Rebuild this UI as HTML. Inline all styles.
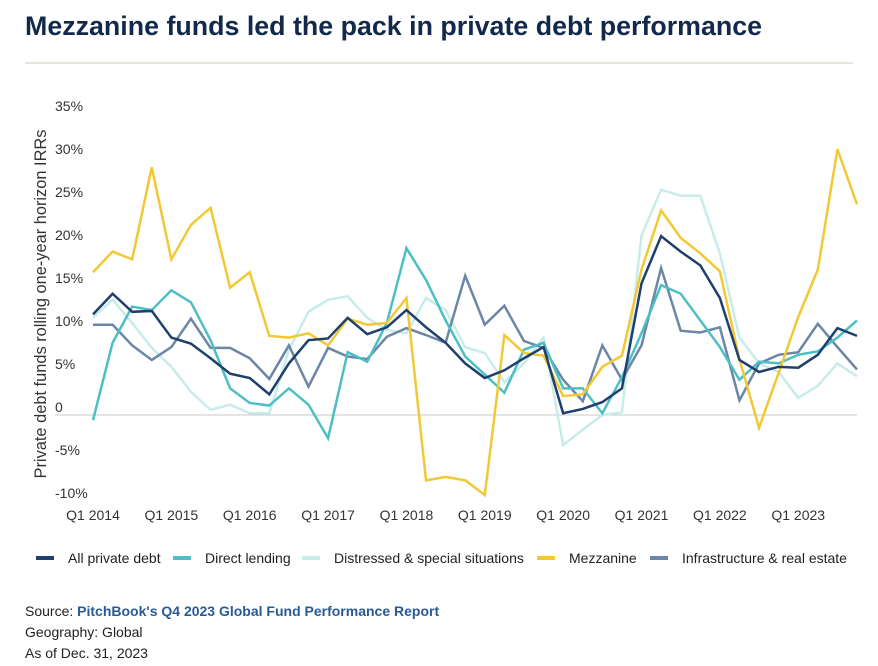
<!DOCTYPE html>
<html><head><meta charset="utf-8"><style>
body{margin:0;background:#fff;width:878px;height:666px;overflow:hidden;font-family:"Liberation Sans",sans-serif}
svg{position:absolute;left:0;top:0}
</style></head><body>
<svg width="878" height="666" viewBox="0 0 878 666">
<text x="25" y="35" font-size="26.8" font-weight="bold" fill="#13294b">Mezzanine funds led the pack in private debt performance</text>
<line x1="25" y1="63" x2="853" y2="63" stroke="#c9cfbd" stroke-width="1"/>
<g id="yaxis"></g>
<g id="xaxis"></g>
<text transform="translate(46,304) rotate(-90)" text-anchor="middle" font-size="16.4" fill="#333">Private debt funds rolling one-year horizon IRRs</text>
<g id="lines"></g>
<g id="legend"></g>
<text x="25" y="616" font-size="14" fill="#222">Source: <tspan fill="#2a5a94" font-weight="bold">PitchBook's Q4 2023 Global Fund Performance Report</tspan></text>
<text x="25" y="637" font-size="14" fill="#222">Geography: Global</text>
<text x="25" y="658" font-size="14" fill="#222">As of Dec. 31, 2023</text>
</svg>
<script>
const yTicks=[35,30,25,20,15,10,5,0,-5,-10];
const xTickLabels=["Q1 2014","Q1 2015","Q1 2016","Q1 2017","Q1 2018","Q1 2019","Q1 2020","Q1 2021","Q1 2022","Q1 2023"];
const seriesNames=["All private debt","Direct lending","Distressed & special situations","Mezzanine","Infrastructure & real estate"];
const allPrivateDebt=[11.7,14.1,12.0,12.1,9.0,8.3,6.6,4.8,4.3,2.4,6.0,8.7,8.9,11.3,9.4,10.2,12.2,10.2,8.4,6.0,4.3,5.2,6.6,7.9,0.2,0.7,1.5,3.1,15.3,20.8,19.0,17.4,13.6,6.4,5.0,5.6,5.5,7.0,10.1,9.2];
const directLending=[-0.6,8.4,12.6,12.2,14.5,13.1,8.7,3.1,1.4,1.1,3.1,1.2,-2.7,7.3,6.2,10.7,19.4,15.7,11.0,6.8,4.7,2.6,7.6,8.4,3.1,3.1,0.2,4.4,9.5,15.1,14.1,11.0,7.9,4.1,6.2,6.0,7.0,7.4,9.0,11.0];
const distressed=[11.3,13.4,10.7,7.8,5.6,2.7,0.6,1.2,0.2,0.2,7.6,12.0,13.4,13.8,11.3,9.9,9.5,13.6,12.2,7.9,7.2,3.8,6.0,9.0,-3.5,-1.7,0.0,0.3,20.9,26.2,25.5,25.5,18.8,9.0,6.0,5.0,2.0,3.4,6.0,4.5];
const mezzanine=[16.6,19.0,18.1,28.8,18.1,22.1,24.1,14.8,16.6,9.2,9.0,9.5,8.1,11.2,10.5,10.7,13.6,-7.6,-7.2,-7.6,-9.3,9.3,7.2,6.9,2.2,2.4,5.6,6.9,16.9,23.8,20.6,18.8,16.7,6.5,-1.5,4.9,11.4,16.9,30.9,24.5];
const infra=[10.5,10.5,8.1,6.4,7.9,11.2,7.8,7.8,6.6,4.2,8.1,3.3,7.8,6.8,6.5,9.1,10.1,9.3,8.4,16.2,10.5,12.7,8.6,7.8,4.1,1.6,8.1,4.1,8.1,17.1,9.8,9.6,10.2,1.7,6.0,7.0,7.3,10.6,7.9,5.3];
const colors=["#1f3f6e","#4cbfc4","#c8ecea","#f2c834","#6b86a6"];
const NS="http://www.w3.org/2000/svg";
const x=i=>93+i*(764/39);
const y=v=>415-v*8.6;
function mk(tag,attrs,parent){const e=document.createElementNS(NS,tag);for(const k in attrs)e.setAttribute(k,attrs[k]);parent.appendChild(e);return e;}
const ya=document.getElementById('yaxis');
yTicks.forEach(t=>{const tx=mk('text',{x:55,y:y(t)-3,'font-size':14,fill:'#333'},ya);tx.textContent=t===0?'0':t+'%';

});
const zl=mk('line',{x1:55,x2:857,y1:y(0),y2:y(0),stroke:'#c8c8c8','stroke-width':1},ya);


const xa=document.getElementById('xaxis');
xTickLabels.forEach((l,i)=>{const tx=mk('text',{x:x(i*4),y:520,'font-size':14,fill:'#333','text-anchor':'middle'},xa);tx.textContent=l;

});
const lg=document.getElementById('lines');
const data=[allPrivateDebt,directLending,distressed,mezzanine,infra];
const keys=['all-private-debt','direct-lending','distressed','mezzanine','infrastructure'];
[2,4,1,3,0].forEach(si=>{const p=mk('polyline',{points:data[si].map((v,i)=>x(i)+','+y(v)).join(' '),fill:'none',stroke:colors[si],'stroke-width':2.5,'stroke-linejoin':'miter'},lg);

});
const leg=document.getElementById('legend');
const lx=[36,173,302,537,650];
seriesNames.forEach((n,i)=>{const g=mk('g',{},leg);


mk('rect',{x:lx[i],y:556,width:18,height:4,fill:colors[i]},g);
const t=mk('text',{x:lx[i]+32,y:563,'font-size':14,fill:'#222'},g);t.textContent=n;});
</script>
</body></html>
